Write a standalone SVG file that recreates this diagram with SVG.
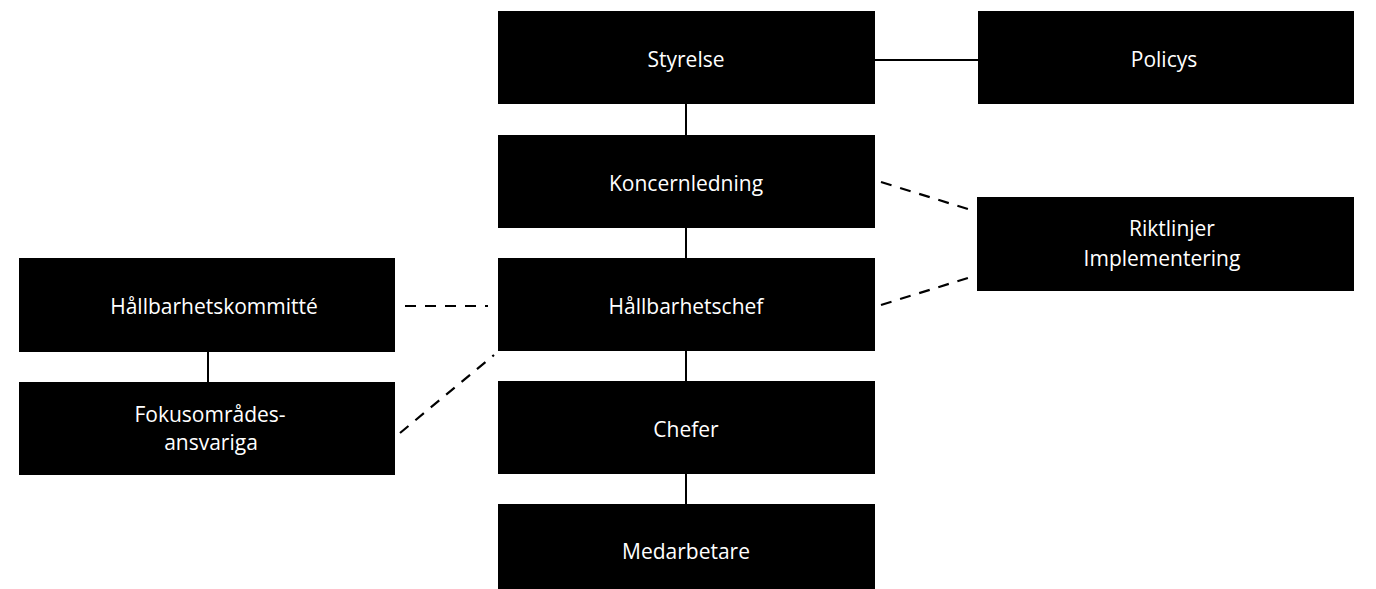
<svg xmlns="http://www.w3.org/2000/svg" width="1376" height="589" viewBox="0 0 1376 589">
<style>
.box{fill:#000}
.t{fill:#fff;font-family:"Open Sans","DejaVu Sans",sans-serif;font-size:21px;text-anchor:middle}
.solid{stroke:#000;stroke-width:2;fill:none}
.dash{stroke:#000;stroke-width:2.2;fill:none;stroke-dasharray:11 9}
</style>
<rect width="1376" height="589" fill="#fff"/>
<g id="connectors">
<line class="solid" x1="686" y1="104" x2="686" y2="135"/>
<line class="solid" x1="686" y1="228" x2="686" y2="258"/>
<line class="solid" x1="686" y1="351" x2="686" y2="381"/>
<line class="solid" x1="686" y1="474" x2="686" y2="504"/>
<line class="solid" x1="875" y1="60" x2="978" y2="60"/>
<line class="solid" x1="208" y1="352" x2="208" y2="382"/>
<line class="dash" x1="881" y1="182" x2="971" y2="210"/>
<line class="dash" x1="881" y1="305" x2="971" y2="277"/>
<line class="dash" x1="405" y1="306" x2="488" y2="306"/>
<line class="dash" x1="400" y1="433" x2="494" y2="355"/>
</g>
<g id="styrelse"><rect class="box" x="498" y="11" width="377" height="93"/><text class="t" x="686" y="67">Styrelse</text></g>
<g id="policys"><rect class="box" x="978" y="11" width="376" height="93"/><text class="t" x="1164" y="67">Policys</text></g>
<g id="koncernledning"><rect class="box" x="498" y="135" width="377" height="93"/><text class="t" x="686" y="191">Koncernledning</text></g>
<g id="riktlinjer"><rect class="box" x="977" y="197" width="377" height="94"/><text class="t" x="1172" y="236">Riktlinjer</text><text class="t" x="1162" y="266">Implementering</text></g>
<g id="hallbarhetschef"><rect class="box" x="498" y="258" width="377" height="93"/><text class="t" x="686" y="314">Hållbarhetschef</text></g>
<g id="hallbarhetskommitte"><rect class="box" x="19" y="258" width="376" height="94"/><text class="t" x="214" y="314">Hållbarhetskommitté</text></g>
<g id="fokusomrades"><rect class="box" x="19" y="382" width="376" height="93"/><text class="t" x="210" y="422">Fokusområdes-</text><text class="t" x="211" y="450">ansvariga</text></g>
<g id="chefer"><rect class="box" x="498" y="381" width="377" height="93"/><text class="t" x="686" y="437">Chefer</text></g>
<g id="medarbetare"><rect class="box" x="498" y="504" width="377" height="85"/><text class="t" x="686" y="559">Medarbetare</text></g>
</svg>
